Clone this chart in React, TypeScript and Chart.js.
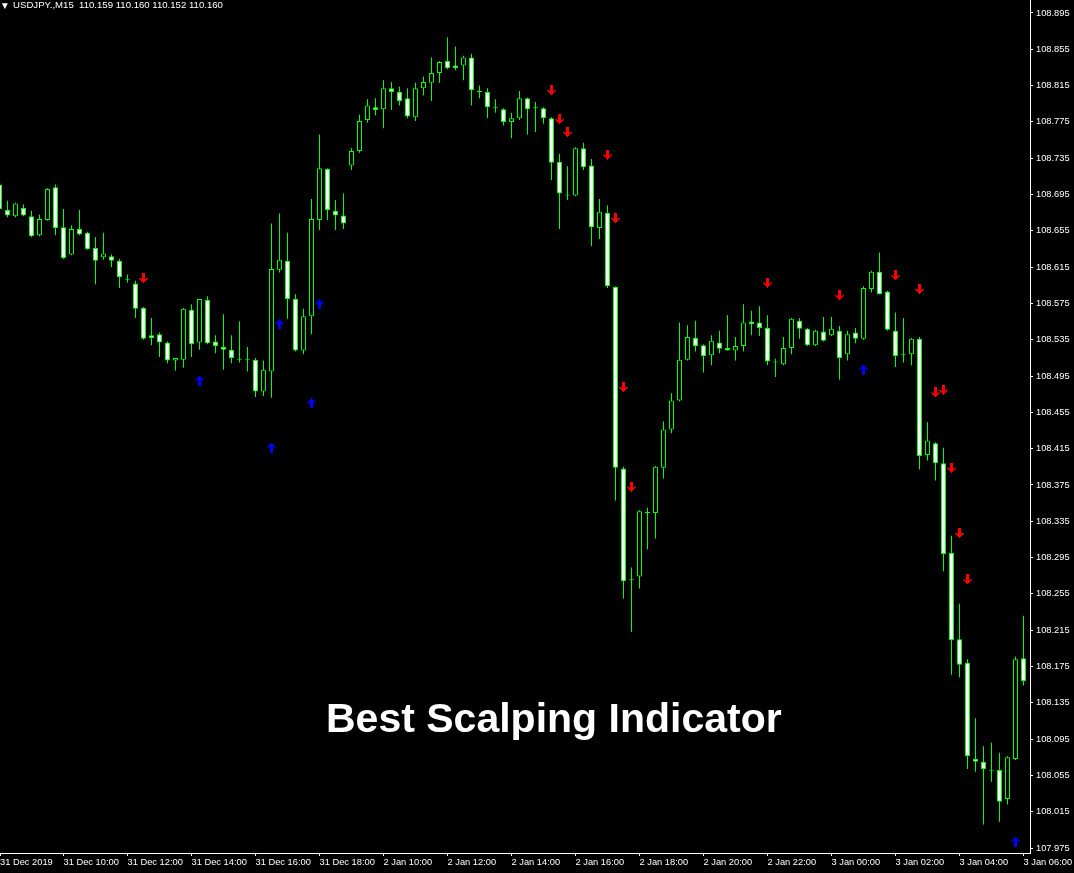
import React, { useEffect, useRef } from "react";
import { Chart, registerables } from "chart.js";

Chart.register(...registerables);

// ---- Candle data (USDJPY M15), one entry per bar, oldest first ----
const opens = [
  108.706, 108.678, 108.671, 108.680, 108.671, 108.650, 108.667, 108.703, 108.659, 108.629,
  108.657, 108.653, 108.636, 108.626, 108.627, 108.622, 108.601, 108.597, 108.570, 108.540,
  108.541, 108.532, 108.512, 108.513, 108.568, 108.532, 108.579, 108.533, 108.527, 108.524,
  108.513, 108.513, 108.513, 108.478, 108.500, 108.612, 108.622, 108.580, 108.523, 108.561,
  108.667, 108.723, 108.677, 108.672, 108.727, 108.743, 108.777, 108.791, 108.789, 108.812,
  108.808, 108.801, 108.780, 108.812, 108.818, 108.829, 108.842, 108.837, 108.837, 108.846,
  108.808, 108.808, 108.790, 108.789, 108.775, 108.779, 108.801, 108.790, 108.790, 108.779,
  108.731, 108.694, 108.694, 108.746, 108.727, 108.658, 108.675, 108.593, 108.393, 108.271,
  108.274, 108.344, 108.344, 108.394, 108.436, 108.468, 108.513, 108.537, 108.529, 108.518,
  108.532, 108.526, 108.523, 108.528, 108.555, 108.554, 108.548, 108.510, 108.508, 108.526,
  108.556, 108.547, 108.529, 108.544, 108.540, 108.545, 108.519, 108.543, 108.536, 108.591,
  108.610, 108.588, 108.545, 108.518, 108.519, 108.536, 108.408, 108.421, 108.399, 108.300,
  108.205, 108.179, 108.073, 108.070, 108.060, 108.061, 108.029, 108.073, 108.184,
];
const highs = [
  108.707, 108.688, 108.686, 108.684, 108.677, 108.673, 108.702, 108.706, 108.679, 108.661,
  108.678, 108.654, 108.648, 108.653, 108.629, 108.624, 108.607, 108.600, 108.571, 108.559,
  108.543, 108.533, 108.515, 108.570, 108.574, 108.580, 108.583, 108.540, 108.563, 108.540,
  108.555, 108.527, 108.515, 108.512, 108.663, 108.674, 108.653, 108.585, 108.569, 108.690,
  108.761, 108.724, 108.689, 108.696, 108.746, 108.783, 108.800, 108.801, 108.821, 108.819,
  108.814, 108.812, 108.818, 108.825, 108.846, 108.842, 108.868, 108.858, 108.848, 108.850,
  108.815, 108.812, 108.800, 108.790, 108.785, 108.809, 108.802, 108.797, 108.791, 108.780,
  108.740, 108.726, 108.747, 108.752, 108.734, 108.690, 108.683, 108.594, 108.395, 108.284,
  108.347, 108.350, 108.396, 108.445, 108.476, 108.554, 108.551, 108.556, 108.530, 108.540,
  108.545, 108.562, 108.538, 108.574, 108.567, 108.572, 108.562, 108.514, 108.538, 108.559,
  108.559, 108.548, 108.546, 108.560, 108.560, 108.550, 108.545, 108.548, 108.594, 108.611,
  108.631, 108.589, 108.565, 108.559, 108.537, 108.538, 108.444, 108.422, 108.416, 108.319,
  108.244, 108.183, 108.118, 108.087, 108.091, 108.080, 108.076, 108.186, 108.231,
];
const lows = [
  108.678, 108.670, 108.670, 108.671, 108.648, 108.649, 108.666, 108.650, 108.624, 108.628,
  108.650, 108.634, 108.596, 108.623, 108.615, 108.592, 108.598, 108.559, 108.535, 108.529,
  108.516, 108.509, 108.501, 108.504, 108.516, 108.524, 108.530, 108.520, 108.502, 108.509,
  108.510, 108.500, 108.472, 108.473, 108.471, 108.609, 108.558, 108.522, 108.519, 108.541,
  108.656, 108.667, 108.656, 108.657, 108.722, 108.741, 108.774, 108.782, 108.768, 108.788,
  108.793, 108.779, 108.776, 108.804, 108.798, 108.818, 108.833, 108.832, 108.821, 108.793,
  108.801, 108.779, 108.785, 108.771, 108.757, 108.777, 108.761, 108.764, 108.773, 108.711,
  108.657, 108.689, 108.693, 108.722, 108.638, 108.646, 108.592, 108.358, 108.250, 108.213,
  108.261, 108.304, 108.316, 108.382, 108.432, 108.467, 108.512, 108.522, 108.499, 108.507,
  108.520, 108.523, 108.512, 108.522, 108.540, 108.539, 108.507, 108.494, 108.507, 108.519,
  108.536, 108.528, 108.528, 108.533, 108.539, 108.491, 108.512, 108.531, 108.535, 108.587,
  108.585, 108.545, 108.505, 108.510, 108.507, 108.392, 108.402, 108.380, 108.280, 108.166,
  108.163, 108.062, 108.059, 108.001, 108.048, 108.004, 108.023, 108.072, 108.154,
];
const closes = [
  108.679, 108.672, 108.685, 108.672, 108.649, 108.668, 108.701, 108.658, 108.625, 108.657,
  108.651, 108.635, 108.622, 108.630, 108.622, 108.604, 108.601, 108.569, 108.536, 108.537,
  108.532, 108.512, 108.515, 108.569, 108.530, 108.580, 108.531, 108.528, 108.524, 108.515,
  108.513, 108.513, 108.478, 108.502, 108.613, 108.623, 108.580, 108.523, 108.561, 108.668,
  108.724, 108.678, 108.672, 108.663, 108.743, 108.776, 108.793, 108.788, 108.812, 108.808,
  108.798, 108.781, 108.812, 108.819, 108.829, 108.841, 108.834, 108.834, 108.846, 108.810,
  108.808, 108.791, 108.790, 108.775, 108.779, 108.801, 108.789, 108.790, 108.779, 108.730,
  108.696, 108.694, 108.746, 108.725, 108.659, 108.676, 108.594, 108.394, 108.269, 108.270,
  108.346, 108.345, 108.395, 108.436, 108.468, 108.513, 108.538, 108.528, 108.517, 108.534,
  108.525, 108.523, 108.528, 108.554, 108.552, 108.548, 108.511, 108.510, 108.526, 108.558,
  108.547, 108.529, 108.545, 108.534, 108.547, 108.515, 108.541, 108.536, 108.592, 108.610,
  108.585, 108.546, 108.517, 108.518, 108.536, 108.407, 108.424, 108.399, 108.299, 108.204,
  108.177, 108.076, 108.070, 108.062, 108.060, 108.026, 108.075, 108.183, 108.159,
];

// ---- Indicator signals: bar index + price where the arrow sits ----
const sellBars = [18, 69, 70, 71, 76, 77, 78, 79, 96, 105, 112, 115, 117, 118, 119, 120, 121];
const sellPrices = [
  108.603, 108.810, 108.778, 108.764, 108.739, 108.669, 108.483, 108.373, 108.598, 108.584,
  108.606, 108.591, 108.477, 108.480, 108.394, 108.322, 108.271,
];
const buyBars = [25, 34, 35, 39, 40, 108, 127];
const buyPrices = [108.490, 108.416, 108.552, 108.465, 108.574, 108.502, 107.982];

// ---- Axis labels ----
const xTickLabels = [
  "31 Dec 2019", "31 Dec 10:00", "31 Dec 12:00", "31 Dec 14:00", "31 Dec 16:00", "31 Dec 18:00",
  "2 Jan 10:00", "2 Jan 12:00", "2 Jan 14:00", "2 Jan 16:00", "2 Jan 18:00", "2 Jan 20:00",
  "2 Jan 22:00", "3 Jan 00:00", "3 Jan 02:00", "3 Jan 04:00", "3 Jan 06:00",
];
const xTickBars = [0, 8, 16, 24, 32, 40, 48, 56, 64, 72, 80, 88, 96, 104, 112, 120, 128];
const yTickValues = [
  107.975, 108.015, 108.055, 108.095, 108.135, 108.175, 108.215, 108.255, 108.295, 108.335,
  108.375, 108.415, 108.455, 108.495, 108.535, 108.575, 108.615, 108.655, 108.695, 108.735,
  108.775, 108.815, 108.855, 108.895,
];

const GREEN = "#00ff00";
const AXIS_FONT = { family: "'Liberation Sans', Arial, sans-serif", size: 9.3 };

function arrowCanvas(color: string, up: boolean): HTMLCanvasElement {
  const rows = [
    "...###...",
    "...###...",
    "...###...",
    "...###...",
    "...###...",
    "##.###.##",
    ".#######.",
    "..#####..",
    "...###...",
    "....#....",
  ];
  const c = document.createElement("canvas");
  c.width = 9;
  c.height = rows.length;
  const g = c.getContext("2d")!;
  g.fillStyle = color;
  rows.forEach((row, r) => {
    const yy = up ? rows.length - 1 - r : r;
    for (let i = 0; i < row.length; i++) if (row[i] === "#") g.fillRect(i, yy, 1, 1);
  });
  return c;
}

export default function App() {
  const ref = useRef<HTMLCanvasElement>(null);

  useEffect(() => {
    const canvas = ref.current;
    if (!canvas) return;

    const bodies = opens.map((o, i) => ({ x: i, y: [o, closes[i]] }));
    const wicks = opens.map((_, i) => ({ x: i, y: [lows[i], highs[i]] }));
    const bodyFill = opens.map((o, i) => (closes[i] < o ? "#ffffff" : "#000000"));
    const sells = sellBars.map((b, i) => ({ x: b, y: sellPrices[i] }));
    const buys = buyBars.map((b, i) => ({ x: b, y: buyPrices[i] }));

    const chart = new Chart(canvas, {
      type: "bar",
      data: {
        datasets: [
          {
            type: "line",
            data: sells,
            showLine: false,
            pointStyle: arrowCanvas("#ff0000", false),
            pointRadius: 5,
            pointHoverRadius: 5,
            borderWidth: 0,
            clip: false,
          } as any,
          {
            type: "line",
            data: buys,
            showLine: false,
            pointStyle: arrowCanvas("#0000ff", true),
            pointRadius: 5,
            pointHoverRadius: 5,
            borderWidth: 0,
            clip: false,
          } as any,
          {
            type: "bar",
            data: bodies,
            backgroundColor: bodyFill,
            borderColor: GREEN,
            borderWidth: 1,
            borderSkipped: false,
            barThickness: 5,
            grouped: false,
            minBarLength: 1,
            inflateAmount: 0,
          } as any,
          {
            type: "bar",
            data: wicks,
            backgroundColor: GREEN,
            borderWidth: 0,
            barThickness: 1,
            grouped: false,
            minBarLength: 1,
            inflateAmount: 0,
          } as any,
        ],
      },
      options: {
        responsive: false,
        maintainAspectRatio: false,
        animation: false,
        events: [],
        layout: { padding: 0, autoPadding: false },
        plugins: {
          legend: { display: false },
          tooltip: { enabled: false },
          title: { display: false },
        },
        scales: {
          x: {
            type: "linear",
            min: 0.0625,
            max: 128.8125,
            offset: false,
            grid: { drawOnChartArea: false, drawTicks: true, tickLength: 3, color: "#ffffff", offset: false },
            border: { display: true, color: "#ffffff", width: 1 },
            ticks: {
              autoSkip: false,
              maxRotation: 0,
              minRotation: 0,
              align: "start",
              padding: 1,
              color: "#ffffff",
              font: AXIS_FONT,
              callback: (_v: any, i: number) => xTickLabels[i],
            },
            afterBuildTicks: (s: any) => {
              s.ticks = xTickBars.map((b) => ({ value: Math.max(b, 0.0625) }));
            },
            afterFit: (s: any) => {
              s.height = 20;
              s.paddingLeft = 0;
              s.paddingRight = 0;
            },
          } as any,
          y: {
            type: "linear",
            position: "right",
            min: 107.9695,
            max: 108.9093,
            grid: { drawOnChartArea: false, drawTicks: true, tickLength: 3, color: "#ffffff" },
            border: { display: true, color: "#ffffff", width: 1 },
            ticks: {
              padding: 3,
              color: "#ffffff",
              font: AXIS_FONT,
              callback: (v: any) => Number(v).toFixed(3),
            },
            afterBuildTicks: (s: any) => {
              s.ticks = yTickValues.map((v) => ({ value: v }));
            },
            afterFit: (s: any) => {
              s.width = 44;
              s.paddingTop = 0;
              s.paddingBottom = 0;
            },
          } as any,
        },
      },
    });
    return () => chart.destroy();
  }, []);

  return (
    <div
      style={{
        position: "absolute",
        left: 0,
        top: 0,
        width: 1074,
        height: 873,
        background: "#000000",
        overflow: "hidden",
      }}
    >
      <canvas ref={ref} width={1074} height={873} style={{ display: "block" }} />
      <div
        style={{
          position: "absolute",
          left: 2,
          top: -1,
          color: "#ffffff",
          fontFamily: "'Liberation Sans', Arial, sans-serif",
          fontSize: 9.6,
          lineHeight: "11px",
          whiteSpace: "pre",
        }}
      >
        <span style={{ fontFamily: "'DejaVu Sans', sans-serif", fontSize: 7.5 }}>▼</span>
        {"  USDJPY.,M15  110.159 110.160 110.152 110.160"}
      </div>
      <div
        style={{
          position: "absolute",
          left: 326,
          top: 698,
          color: "#ffffff",
          fontFamily: "'Liberation Sans', Arial, sans-serif",
          fontWeight: 700,
          fontSize: 41,
          lineHeight: "41px",
          whiteSpace: "nowrap",
        }}
      >
        Best Scalping Indicator
      </div>
    </div>
  );
}
